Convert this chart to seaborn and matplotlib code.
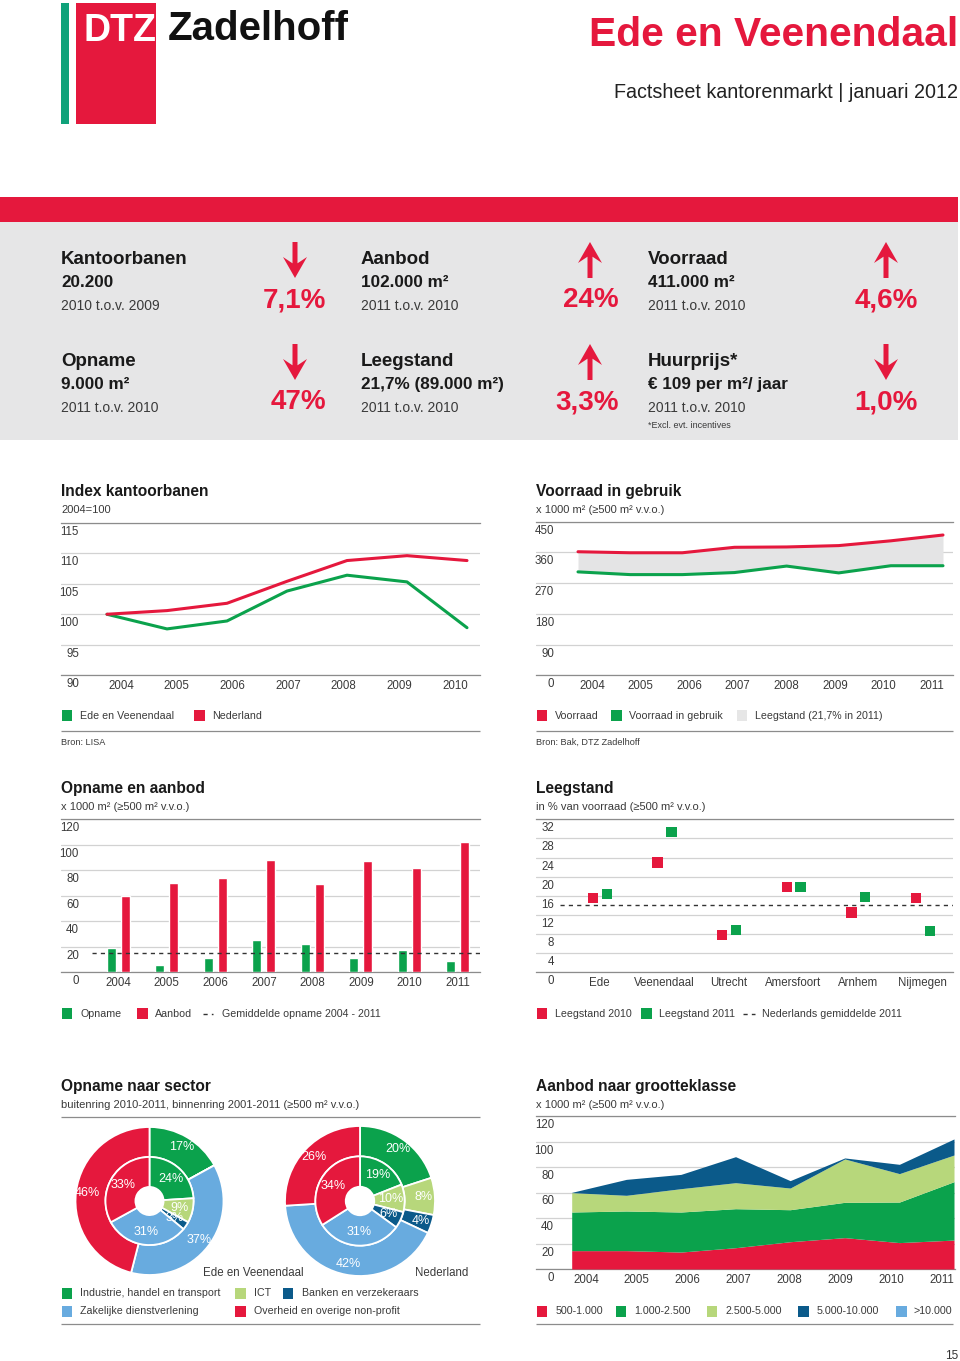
import numpy as np
import pandas as pd
import matplotlib
matplotlib.use('Agg')
import matplotlib.pyplot as plt
import matplotlib.transforms as mtransforms
from matplotlib.patches import Rectangle, FancyArrow
import seaborn as sns

# ---------------- data ----------------
jaren_index = [2004, 2005, 2006, 2007, 2008, 2009, 2010]
index_ede = [100.0, 97.6, 98.9, 103.8, 106.4, 105.3, 97.8]
index_nl = [100.0, 100.6, 101.8, 105.4, 108.8, 109.6, 108.8]
index_ticks = [90, 95, 100, 105, 110, 115]

jaren = [2004, 2005, 2006, 2007, 2008, 2009, 2010, 2011]
voorraad = [362, 359, 359, 375, 376, 380, 394, 411]
voorraad_gebruik = [303, 295, 295, 301, 320, 300, 321, 321]
voorraad_ticks = [0, 90, 180, 270, 360, 450]

opname = [19.1, 6.0, 11.2, 25.1, 22.0, 11.2, 17.3, 9.2]
aanbod = [60.1, 70.3, 74.2, 88.1, 69.3, 87.1, 82.1, 102.0]
m2_ticks = [0, 20, 40, 60, 80, 100, 120]

steden = ['Ede', 'Veenendaal', 'Utrecht', 'Amersfoort', 'Arnhem', 'Nijmegen']
leegstand_2010 = [15.5, 23.0, 7.8, 17.9, 12.5, 15.5]
leegstand_2011 = [16.4, 29.4, 8.9, 17.9, 15.7, 8.6]
leegstand_nl_2011 = 14.1
leegstand_ticks = [0, 4, 8, 12, 16, 20, 24, 28, 32]

sectoren = ['Industrie, handel en transport', 'ICT', 'Banken en verzekeraars',
            'Zakelijke dienstverlening', 'Overheid en overige non-profit']
ede_buitenring = [17, 0, 0, 37, 46]
ede_binnenring = [24, 9, 3, 31, 33]
nl_buitenring = [20, 8, 4, 42, 26]
nl_binnenring = [19, 10, 6, 31, 34]

klassen = ['500-1.000', '1.000-2.500', '2.500-5.000', '5.000-10.000', '>10.000']
aanbod_500_1000 = [14.4, 14.4, 13.3, 16.7, 21.4, 24.6, 20.7, 22.7]
aanbod_1000_2500 = [30.3, 31.1, 31.4, 30.6, 25.1, 27.7, 31.8, 45.8]
aanbod_2500_5000 = [15.2, 12.3, 18.3, 20.4, 17.0, 34.0, 22.3, 20.9]
aanbod_5000_10000 = [0.2, 12.5, 11.2, 20.4, 5.8, 0.8, 7.3, 12.6]
aanbod_10000 = [0.0, 0.0, 0.0, 0.0, 0.0, 0.0, 0.0, 0.0]

kpi_koppen = ['Kantoorbanen', 'Aanbod', 'Voorraad', 'Opname', 'Leegstand', 'Huurprijs*']
kpi_waarden = ['20.200', '102.000 m²', '411.000 m²', '9.000 m²', '21,7% (89.000 m²)', '€ 109 per m²/ jaar']
kpi_periode = ['2010 t.o.v. 2009', '2011 t.o.v. 2010', '2011 t.o.v. 2010',
               '2011 t.o.v. 2010', '2011 t.o.v. 2010', '2011 t.o.v. 2010']
kpi_verandering = ['7,1%', '24%', '4,6%', '47%', '3,3%', '1,0%']
kpi_richting = [-1, 1, 1, -1, 1, -1]

# ---------------- style ----------------
RED = '#e5183d'
GREEN = '#0ba24c'
LGREEN = '#b7d77b'
DBLUE = '#0b5a8a'
LBLUE = '#68abdf'
PANEL = '#e6e6e7'
FILLGREY = '#e4e4e5'
TXT = '#3a3a3a'
DARK = '#1a1a1a'
LEG = 7.7

sns.set_theme(style='white')
plt.rcParams['font.family'] = ['Liberation Sans', 'DejaVu Sans']

W, H = 960, 1361
fig = plt.figure(figsize=(W / 100, H / 100), dpi=100)
bg = fig.add_axes([0, 0, 1, 1])
bg.set_xlim(0, W)
bg.set_ylim(H, 0)
bg.axis('off')


def px_axes(x0, y0, x1, y1):
    return fig.add_axes([x0 / W, 1 - y1 / H, (x1 - x0) / W, (y1 - y0) / H])


def lin(px, pa, va, pb, vb):
    return va + (px - pa) * (vb - va) / (pb - pa)


def t(x, y, s, size=LEG, color=TXT, weight='normal', ha='left', va='center', **kw):
    bg.text(x, y, s, fontsize=size, color=color, fontweight=weight, ha=ha, va=va, **kw)


def hline(x0, x1, y, color='#8c8c8c', lw=0.9):
    bg.plot([x0, x1], [y, y], color=color, lw=lw, solid_capstyle='butt')


def square(x, y, c):
    bg.add_patch(Rectangle((x, y - 5), 10.5, 10.5, facecolor=c, edgecolor='none'))


def style_chart(ax, ticks, xlim, xticks, xticklabels):
    ax.set_facecolor('none')
    ax.set_xlim(*xlim)
    ax.set_ylim(ticks[0], ticks[-1])
    ax.set_yticks(ticks)
    ax.set_yticklabels([])
    ax.tick_params(axis='y', left=False, length=0)
    ax.set_xticks(xticks)
    ax.set_xticklabels(xticklabels)
    ax.tick_params(axis='x', bottom=False, length=0, pad=3.5, labelsize=8.3, labelcolor=TXT)
    ax.grid(False)
    ax.yaxis.grid(True, color='#d2d2d2', lw=0.9)
    ax.set_axisbelow(True)
    for s in ('left', 'right'):
        ax.spines[s].set_visible(False)
    for s in ('top', 'bottom'):
        ax.spines[s].set_color('#8c8c8c')
        ax.spines[s].set_linewidth(0.9)
    ax.set_xlabel('')
    ax.set_ylabel('')
    tr = mtransforms.offset_copy(
        mtransforms.blended_transform_factory(ax.transAxes, ax.transData),
        fig=fig, x=18, y=-3, units='dots')
    for v in ticks:
        ax.text(0, v, str(v), transform=tr, ha='right', va='top', fontsize=8.3, color=TXT)


def title(x, y, s, sub):
    t(x, y, s, size=11.2, color=DARK, weight='bold')
    t(x, y + 19, sub, size=8.0, color=TXT)


# ---------------- header ----------------
bg.add_patch(Rectangle((61, 3), 8, 121, facecolor='#0fa27a', edgecolor='none'))
bg.add_patch(Rectangle((75.5, 3), 80, 121, facecolor=RED, edgecolor='none'))
t(84, 31, 'DTZ', size=27, color='white', weight='bold')
t(168, 29, 'Zadelhoff', size=29, color='#111111', weight='bold')
t(958, 35, 'Ede en Veenendaal', size=29.3, color=RED, weight='bold', ha='right')
t(958, 92, 'Factsheet kantorenmarkt | januari 2012', size=14.2, color='#222222', ha='right')

# ---------------- KPI panel ----------------
bg.add_patch(Rectangle((0, 197), 958, 25, facecolor=RED, edgecolor='none'))
bg.add_patch(Rectangle((0, 222), 958, 218, facecolor=PANEL, edgecolor='none'))

col_x = [61, 361, 648]
arrow_x = [295, 590, 886]
pct_x = [326, 619, 918]
row_y = [259, 361]
for i, (kop, waarde, periode, pct, richting) in enumerate(
        zip(kpi_koppen, kpi_waarden, kpi_periode, kpi_verandering, kpi_richting)):
    r, c = divmod(i, 3)
    y0 = row_y[r]
    t(col_x[c], y0, kop, size=13.5, color=DARK, weight='bold')
    t(col_x[c], y0 + 23, waarde, size=12.3, color=DARK, weight='bold')
    t(col_x[c], y0 + 46.5, periode, size=10, color=TXT)
    t(pct_x[c], y0 + 41, pct, size=20, color=RED, weight='bold', ha='right')
    top, bot = y0 - 17, y0 + 19
    if richting > 0:
        arr = FancyArrow(arrow_x[c], bot, 0, -(bot - top), width=5, head_width=24, head_length=21,
                         overhang=0.3, length_includes_head=True, color=RED, lw=0)
    else:
        arr = FancyArrow(arrow_x[c], top, 0, bot - top, width=5, head_width=24, head_length=21,
                         overhang=0.3, length_includes_head=True, color=RED, lw=0)
    bg.add_patch(arr)
t(648, 425, '*Excl. evt. incentives', size=6.5, color=TXT)

# ---------------- chart 1: Index kantoorbanen ----------------
title(61, 491, 'Index kantoorbanen', '2004=100')
ax1 = px_axes(61, 522.7, 480, 675.3)
df_index = pd.DataFrame({
    'jaar': jaren_index * 2,
    'index': index_ede + index_nl,
    'regio': ['Ede en Veenendaal'] * len(jaren_index) + ['Nederland'] * len(jaren_index)})
sns.lineplot(data=df_index, x='jaar', y='index', hue='regio',
             palette={'Ede en Veenendaal': GREEN, 'Nederland': RED},
             linewidth=2.2, legend=False, ax=ax1)
style_chart(ax1, index_ticks,
            (lin(61, 107, 2004, 467, 2010), lin(480, 107, 2004, 467, 2010)),
            np.linspace(lin(121, 107, 2004, 467, 2010), lin(455, 107, 2004, 467, 2010), len(jaren_index)),
            [str(j) for j in jaren_index])
square(61.5, 715, GREEN)
t(79.5, 715.5, 'Ede en Veenendaal')
square(194, 715, RED)
t(212, 715.5, 'Nederland')
hline(61, 480, 730.5)
t(61, 742, 'Bron: LISA', size=6.6)

# ---------------- chart 2: Voorraad in gebruik ----------------
title(536, 491, 'Voorraad in gebruik', 'x 1000 m² (≥500 m² v.v.o.)')
ax2 = px_axes(536, 521.7, 953, 675.3)
df_voorraad = pd.DataFrame({
    'jaar': jaren * 2,
    'm2': voorraad + voorraad_gebruik,
    'reeks': ['Voorraad'] * len(jaren) + ['Voorraad in gebruik'] * len(jaren)})
ax2.fill_between(jaren, voorraad_gebruik, voorraad, color=FILLGREY, lw=0, zorder=1.5)
sns.lineplot(data=df_voorraad, x='jaar', y='m2', hue='reeks',
             palette={'Voorraad': RED, 'Voorraad in gebruik': GREEN},
             linewidth=2.2, legend=False, ax=ax2, zorder=3)
style_chart(ax2, voorraad_ticks,
            (lin(536, 578, 2004, 943, 2011), lin(953, 578, 2004, 943, 2011)),
            np.linspace(lin(592, 578, 2004, 943, 2011), lin(932, 578, 2004, 943, 2011), len(jaren)),
            [str(j) for j in jaren])
square(536.5, 715, RED)
t(555, 715.5, 'Voorraad')
square(611, 715, GREEN)
t(629, 715.5, 'Voorraad in gebruik')
square(736.5, 715, '#e6e6e6')
t(755, 715.5, 'Leegstand (21,7% in 2011)')
hline(536, 953, 730.5)
t(536, 742, 'Bron: Bak, DTZ Zadelhoff', size=6.6)

# ---------------- chart 3: Opname en aanbod ----------------
title(61, 788, 'Opname en aanbod', 'x 1000 m² (≥500 m² v.v.o.)')
ax3 = px_axes(61, 819.3, 480, 972.3)
df_oa = pd.DataFrame({
    'jaar': [str(j) for j in jaren] * 2,
    'm2': opname + aanbod,
    'reeks': ['Opname'] * len(jaren) + ['Aanbod'] * len(jaren)})
sns.barplot(data=df_oa, x='jaar', y='m2', hue='reeks',
            palette={'Opname': GREEN, 'Aanbod': RED}, saturation=1,
            width=0.577, gap=0.336, legend=False, ax=ax3, zorder=3)
ax3.axhline(np.mean(opname), xmin=(91.7 - 61) / (480 - 61), xmax=1,
            color='#333333', lw=1.0, ls=(0, (3, 3)), zorder=4)
style_chart(ax3, m2_ticks,
            (lin(61, 118.35, 0, 457.85, 7), lin(480, 118.35, 0, 457.85, 7)),
            list(range(len(jaren))), [str(j) for j in jaren])
square(61.5, 1013, GREEN)
t(80.5, 1013.5, 'Opname')
square(137, 1013, RED)
t(154.5, 1013.5, 'Aanbod')
bg.plot([203, 213], [1013.5, 1013.5], color='#333333', lw=1.0, ls=(0, (3, 3)))
t(221.5, 1013.5, 'Gemiddelde opname 2004 - 2011')

# ---------------- chart 4: Leegstand ----------------
title(536, 788, 'Leegstand', 'in % van voorraad (≥500 m² v.v.o.)')
ax4 = px_axes(536, 819.3, 953, 972.3)
pos = np.arange(len(steden))
df_leeg = pd.DataFrame({
    'x': np.concatenate([pos - 0.105, pos + 0.11]),
    'pct': leegstand_2010 + leegstand_2011,
    'jaar': ['Leegstand 2010'] * len(steden) + ['Leegstand 2011'] * len(steden)})
ax4.axhline(leegstand_nl_2011, xmin=(560 - 536) / (953 - 536), xmax=1,
            color='#333333', lw=1.0, ls=(0, (3, 3)), zorder=2)
sns.scatterplot(data=df_leeg, x='x', y='pct', hue='jaar',
                palette={'Leegstand 2010': RED, 'Leegstand 2011': GREEN},
                marker='s', s=56, linewidth=0, legend=False, ax=ax4, zorder=4)
style_chart(ax4, leegstand_ticks,
            (lin(536, 599.7, 0, 922.7, 5), lin(953, 599.7, 0, 922.7, 5)),
            list(pos), steden)
square(536.5, 1013, RED)
t(555, 1013.5, 'Leegstand 2010')
square(641, 1013, GREEN)
t(659, 1013.5, 'Leegstand 2011')
bg.plot([743, 755], [1013.5, 1013.5], color='#333333', lw=1.0, ls=(0, (3, 3)))
t(761.5, 1013.5, 'Nederlands gemiddelde 2011')

# ---------------- chart 5: Opname naar sector ----------------
title(61, 1086, 'Opname naar sector', 'buitenring 2010-2011, binnenring 2001-2011 (≥500 m² v.v.o.)')
hline(61, 480, 1116.7)
sector_kleuren = [GREEN, LGREEN, DBLUE, LBLUE, RED]


def pct_fmt(p):
    return f'{p:.0f}%' if p >= 0.5 else ''


def donut(cx, cy, r, buiten, binnen):
    ax = px_axes(cx - r - 1, cy - r - 1, cx + r + 1, cy + r + 1)
    wp = dict(width=0.405, edgecolor='white', linewidth=1.3)
    tp = dict(color='white', fontsize=9)
    ax.pie(buiten, radius=1.0, colors=sector_kleuren, startangle=90, counterclock=False,
           wedgeprops=wp, autopct=pct_fmt, pctdistance=0.85, textprops=tp)
    ax.pie(binnen, radius=0.595, colors=sector_kleuren, startangle=90, counterclock=False,
           wedgeprops=wp, autopct=pct_fmt, pctdistance=0.70, textprops=tp)
    lim = (r + 1) / r
    ax.set_xlim(-lim, lim)
    ax.set_ylim(-lim, lim)
    ax.set_aspect('equal')
    ax.axis('off')


donut(149.5, 1201, 74, ede_buitenring, ede_binnenring)
donut(360, 1201, 75, nl_buitenring, nl_binnenring)
t(253, 1273, 'Ede en Veenendaal', ha='center', size=8.3)
t(441.5, 1273, 'Nederland', ha='center', size=8.3)

leg5 = [(61.5, 80.5, 1293), (235, 254, 1293), (282.5, 301.5, 1293), (61.5, 80.5, 1311), (235, 254, 1311)]
for (sx, tx, ly), naam, kl in zip(leg5, sectoren, sector_kleuren):
    square(sx, ly, kl)
    t(tx, ly + 0.5, naam)
hline(61, 480, 1324.3)

# ---------------- chart 6: Aanbod naar grootteklasse ----------------
title(536, 1086, 'Aanbod naar grootteklasse', 'x 1000 m² (≥500 m² v.v.o.)')
ax6 = px_axes(536, 1116, 955, 1269)
klasse_kleuren = [RED, GREEN, LGREEN, DBLUE, LBLUE]
ax6.stackplot(jaren, aanbod_500_1000, aanbod_1000_2500, aanbod_2500_5000,
              aanbod_5000_10000, aanbod_10000, colors=klasse_kleuren, lw=0, zorder=3)
style_chart(ax6, m2_ticks,
            (lin(536, 571.7, 2004, 954, 2011), lin(955, 571.7, 2004, 954, 2011)),
            np.linspace(lin(586, 571.7, 2004, 954, 2011), lin(941.7, 571.7, 2004, 954, 2011), len(jaren)),
            [str(j) for j in jaren])
leg6 = [(536.5, 555.5), (615.5, 634.5), (706.5, 725), (798, 816.5), (896, 914)]
for (sx, tx), naam, kl in zip(leg6, klassen, klasse_kleuren):
    square(sx, 1311, kl)
    t(tx, 1311.5, naam)
hline(536, 953, 1324.3)

t(958, 1356, '15', size=8.5, ha='right', color='#333333')

fig.savefig('out.png', dpi=100)
